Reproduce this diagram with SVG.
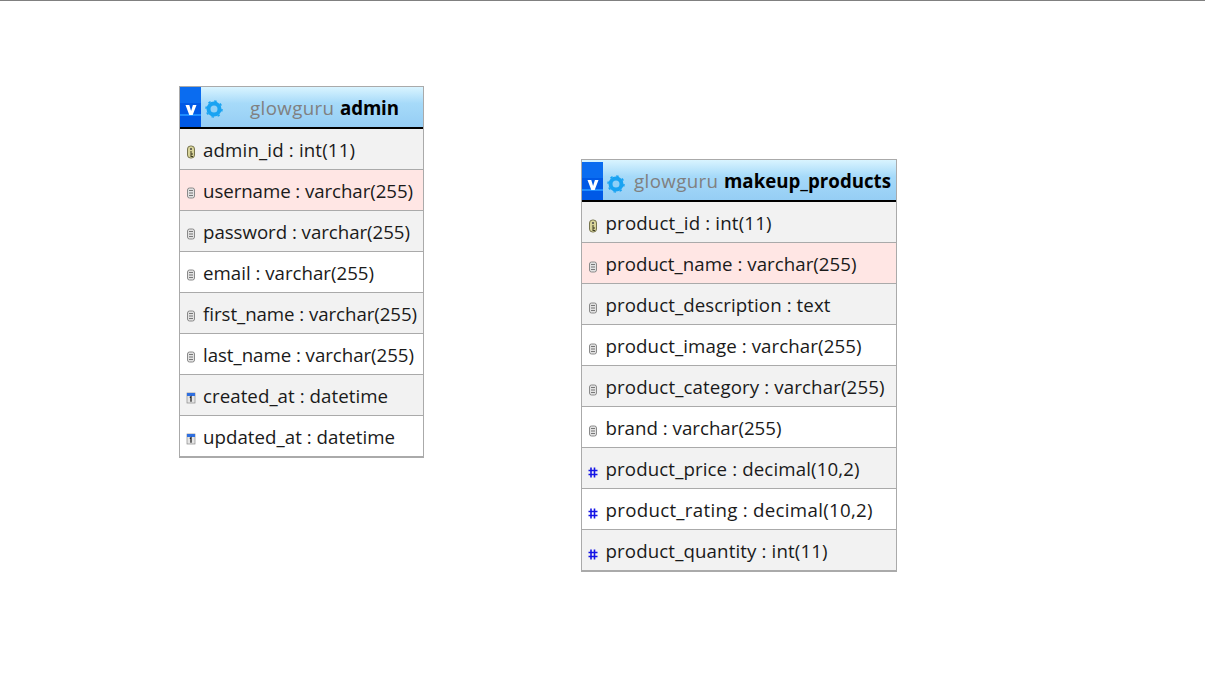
<svg xmlns="http://www.w3.org/2000/svg" width="1205" height="675" viewBox="0 0 1205 675">
<style>
text{font-family:"Open Sans","Noto Sans","Liberation Sans",sans-serif;font-size:18.7px;fill:#1a1a1a}
.g{fill:#808080}.t{fill:#000;font-weight:700}
.frame{fill:none;stroke:#aaa;stroke-width:1}
.odd{fill:#f2f2f2}.even{fill:#fff}.pink{fill:#ffe6e4}
.sep{stroke:#aaa;stroke-width:1}.hl{fill:#000}
.bot{fill:#aaa}
</style>
<defs>
<linearGradient id="hd" x1="0" y1="0" x2="0" y2="1"><stop offset="0" stop-color="#d9f4ff"/><stop offset=".4" stop-color="#a6daf9"/><stop offset="1" stop-color="#95cdf4"/></linearGradient>
<g id="hicons">
<rect x="0" y="0" width="21" height="16" fill="#0a6cf0"/>
<rect x="0" y="16" width="21" height="11" fill="#0059e6"/>
<rect x="0" y="27" width="21" height="2" fill="#1f8cff"/>
<rect x="0" y="29" width="21" height="11" fill="#0059e6"/>
<path d="M5.500 18h3.800l1.800 6 1.800-6h3.600l-3.800 10h-3.400z" fill="#fff"/>
<circle cx="34" cy="22" r="5.500" fill="#8fd0f7" stroke="#19a3f2" stroke-width="4"/>
<circle cx="34" cy="22" r="8" fill="none" stroke="#19a3f2" stroke-width="1.500" stroke-dasharray="2.500 3.780"/>
</g>
<g id="key"><rect x="-3.500" y="-6" width="7" height="12" rx="3" fill="#d8d49a" stroke="#77744e" stroke-width="1"/><circle cx="0" cy="-3" r="1" fill="#444"/><path d="M0-1v6M0 2h2M0 4.500h2" stroke="#3c3a22" stroke-width="1" fill="none"/></g>
<g id="txt"><rect x="-3.500" y="-5" width="7" height="10" rx="2" fill="#e2e2e2" stroke="#8a8a8a" stroke-width="1"/><path d="M-2-2.500h4M-2 0h4M-2 2.500h4" stroke="#777" stroke-width="1"/></g>
<g id="cal"><rect x="-4" y="-5" width="8" height="10" fill="#e6e6e6" stroke="#8a8a8a" stroke-width=".7"/><rect x="-4" y="-5" width="8" height="3" fill="#2f6fe0"/><path d="M-1.200-.5l1.200-.8v5" stroke="#222" stroke-width="1.300" fill="none"/></g>
<g id="num"><path d="M-2-4.500v10M1.500-4.500v10M-4.500-1.500h9M-4.500 2.500h9" stroke="#1414e6" stroke-width="1.600" fill="none"/></g>
</defs>
<rect width="1205" height="675" fill="#fff"/>
<rect x="0" y="0" width="1205" height="1" fill="#808080"/>
<g id="connectors"/>
<g id="table-admin">
<rect x="180" y="87" width="243" height="41" fill="url(#hd)"/>
<use href="#hicons" x="180" y="87"/>
<rect class="hl" x="180" y="127" width="243" height="2"/>
<rect class="odd" x="180" y="129" width="243" height="40"/>
<rect class="pink" x="180" y="170" width="243" height="40"/>
<rect class="odd" x="180" y="211" width="243" height="40"/>
<rect class="even" x="180" y="252" width="243" height="40"/>
<rect class="odd" x="180" y="293" width="243" height="40"/>
<rect class="even" x="180" y="334" width="243" height="40"/>
<rect class="odd" x="180" y="375" width="243" height="40"/>
<rect class="even" x="180" y="416" width="243" height="40"/>
<path class="sep" d="M180 169.500h243M180 210.500h243M180 251.500h243M180 292.500h243M180 333.500h243M180 374.500h243M180 415.500h243"/>
<rect class="bot" x="180" y="456" width="243" height="2"/>
<rect class="frame" x="179.500" y="86.500" width="244" height="371"/>
<text class="g" x="250" y="115" textLength="84">glowguru</text><text class="t" x="340" y="115" textLength="59">admin</text>
<use href="#key" x="191" y="152"/><text x="203" y="157" textLength="152">admin_id : int(11)</text>
<use href="#txt" x="191" y="193"/><text x="203" y="198" textLength="210">username : varchar(255)</text>
<use href="#txt" x="191" y="234"/><text x="203" y="239" textLength="207">password : varchar(255)</text>
<use href="#txt" x="191" y="275"/><text x="203" y="280" textLength="171">email : varchar(255)</text>
<use href="#txt" x="191" y="316"/><text x="203" y="321" textLength="214">first_name : varchar(255)</text>
<use href="#txt" x="191" y="357"/><text x="203" y="362" textLength="211">last_name : varchar(255)</text>
<use href="#cal" x="191" y="398"/><text x="203" y="403" textLength="185">created_at : datetime</text>
<use href="#cal" x="191" y="439"/><text x="203" y="444" textLength="192">updated_at : datetime</text>
</g>
<g id="table-makeup_products">
<rect x="582" y="160" width="314" height="41" fill="url(#hd)"/>
<use href="#hicons" x="582" y="162"/>
<rect class="hl" x="582" y="200" width="314" height="2"/>
<rect class="odd" x="582" y="202" width="314" height="40"/>
<rect class="pink" x="582" y="243" width="314" height="40"/>
<rect class="odd" x="582" y="284" width="314" height="40"/>
<rect class="even" x="582" y="325" width="314" height="40"/>
<rect class="odd" x="582" y="366" width="314" height="40"/>
<rect class="even" x="582" y="407" width="314" height="40"/>
<rect class="odd" x="582" y="448" width="314" height="40"/>
<rect class="even" x="582" y="489" width="314" height="40"/>
<rect class="odd" x="582" y="530" width="314" height="40"/>
<path class="sep" d="M582 242.500h314M582 283.500h314M582 324.500h314M582 365.500h314M582 406.500h314M582 447.500h314M582 488.500h314M582 529.500h314"/>
<rect class="bot" x="582" y="570" width="314" height="2"/>
<rect class="frame" x="581.500" y="159.500" width="315" height="412"/>
<text class="g" x="634" y="188" textLength="84">glowguru</text><text class="t" x="724" y="188" textLength="167">makeup_products</text>
<use href="#key" x="593" y="226"/><text x="605.500" y="230" textLength="166">product_id : int(11)</text>
<use href="#txt" x="593" y="267"/><text x="605.500" y="271" textLength="251">product_name : varchar(255)</text>
<use href="#txt" x="593" y="308"/><text x="605.500" y="312" textLength="225">product_description : text</text>
<use href="#txt" x="593" y="349"/><text x="605.500" y="353" textLength="256">product_image : varchar(255)</text>
<use href="#txt" x="593" y="390"/><text x="605.500" y="394" textLength="279">product_category : varchar(255)</text>
<use href="#txt" x="593" y="431"/><text x="605.500" y="435" textLength="176">brand : varchar(255)</text>
<use href="#num" x="593" y="472"/><text x="605.500" y="476" textLength="254">product_price : decimal(10,2)</text>
<use href="#num" x="593" y="513"/><text x="605.500" y="517" textLength="267">product_rating : decimal(10,2)</text>
<use href="#num" x="593" y="554"/><text x="605.500" y="558" textLength="222">product_quantity : int(11)</text>
</g>
</svg>
